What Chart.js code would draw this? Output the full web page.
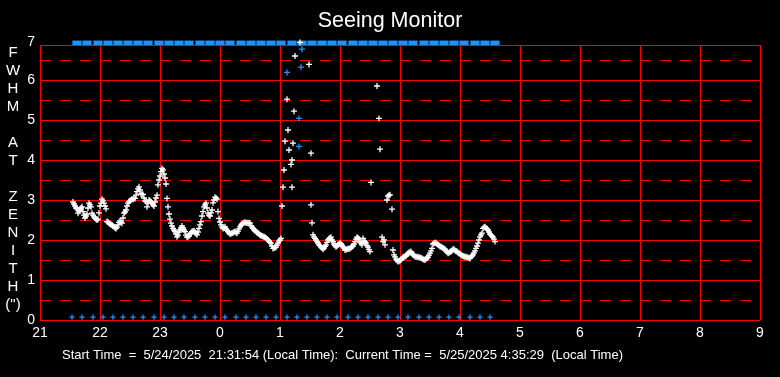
<!DOCTYPE html>
<html>
<head>
<meta charset="utf-8">
<title>Seeing Monitor</title>
<script src="https://cdn.jsdelivr.net/npm/chart.js@4.4.1/dist/chart.umd.min.js"></script>
<style>
  html, body { margin: 0; padding: 0; background: #000; }
  #seeing { display: block; }
</style>
</head>
<body>
<canvas id="seeing" width="780" height="377"></canvas>
<script>
// minutes after 21:00 local time, FWHM at zenith in arcsec
var seeing = [
  [33,2.95],[34,2.9],[35,2.85],[36,2.8],[37,2.78],[38,2.67],[39,2.72],[40,2.75],[41,2.8],[42,2.83],
  [43,2.71],[44,2.62],[45,2.55],[46,2.6],[47,2.65],[48,2.8],[49,2.92],[50,2.88],[51,2.83],[52,2.67],
  [53,2.62],[54,2.58],[55,2.55],[56,2.52],[57,2.5],[58,2.52],[59,2.68],[60,2.85],[61,2.92],[62,3.02],
  [63,2.98],[64,2.92],[65,2.85],[66,2.78],[67,2.46],[68,2.45],[69,2.42],[70,2.4],[71,2.38],[72,2.38],
  [73,2.35],[74,2.33],[75,2.3],[76,2.29],[77,2.32],[78,2.38],[79,2.44],[80,2.48],[81,2.45],[82,2.42],
  [83,2.55],[84,2.67],[85,2.7],[86,2.75],[87,2.85],[88,2.92],[89,2.96],[90,2.98],[91,3.0],[92,3.02],
  [93,3.02],[94,3.04],[95,3.04],[96,3.12],[97,3.21],[98,3.28],[99,3.33],[100,3.25],[101,3.15],[102,3.14],
  [103,3.14],[104,3.05],[105,2.98],[106,2.96],[107,2.83],[108,2.92],[109,3.0],[110,2.98],[111,2.95],[112,2.92],
  [113,2.88],[114,2.85],[115,2.95],[116,3.05],[117,3.12],[118,3.38],[119,3.5],[120,3.6],[121,3.71],[122,3.79],
  [123,3.75],[124,3.65],[125,3.55],[126,3.4],[127,3.04],[128,2.83],[129,2.65],[130,2.52],[131,2.42],[132,2.35],
  [133,2.29],[134,2.25],[135,2.21],[136,2.15],[137,2.08],[138,2.12],[139,2.2],[140,2.25],[141,2.3],[142,2.35],
  [143,2.3],[144,2.25],[145,2.21],[146,2.12],[147,2.07],[148,2.08],[149,2.1],[150,2.15],[151,2.18],[152,2.21],
  [153,2.22],[154,2.23],[155,2.2],[156,2.16],[157,2.13],[158,2.2],[159,2.29],[160,2.38],[161,2.46],[162,2.6],
  [163,2.71],[164,2.83],[165,2.88],[166,2.92],[167,2.8],[168,2.67],[169,2.62],[170,2.6],[171,2.68],[172,2.75],
  [173,2.93],[174,3.0],[175,3.07],[176,3.05],[177,3.02],[178,2.71],[179,2.54],[180,2.45],[181,2.38],[182,2.33],
  [183,2.29],[184,2.3],[185,2.33],[186,2.28],[187,2.24],[188,2.21],[189,2.18],[190,2.15],[191,2.16],[192,2.17],
  [193,2.18],[194,2.2],[195,2.21],[196,2.19],[197,2.17],[198,2.22],[199,2.28],[200,2.33],[201,2.37],[202,2.4],
  [203,2.42],[204,2.44],[205,2.44],[206,2.43],[207,2.43],[208,2.42],[209,2.43],[210,2.42],[211,2.36],[212,2.32],
  [213,2.29],[214,2.26],[215,2.23],[216,2.21],[217,2.19],[218,2.18],[219,2.15],[220,2.12],[221,2.11],[222,2.1],
  [223,2.09],[224,2.08],[225,2.07],[226,2.05],[227,2.02],[228,2.0],[229,1.97],[230,1.94],[231,1.92],[232,1.85],
  [233,1.79],[234,1.8],[235,1.81],[236,1.82],[237,1.87],[238,1.92],[239,1.97],[240,2.0],[241,2.04],
  [242,2.85],[243,3.32],[244,3.75],[245,4.47],[247,5.52],[248,4.75],[249,4.25],[251,3.89],[252,3.32],[252,4.0],
  [253,4.42],[254,5.22],[255,6.6],[260,6.94],[269,6.39],[271,4.17],[271,2.88],[272,2.43],
  [273,2.13],[274,2.08],[275,2.04],[276,2.0],[277,1.96],[278,1.92],[279,1.88],[280,1.86],[281,1.83],[282,1.8],
  [283,1.77],[284,1.8],[285,1.84],[286,1.88],[287,1.94],[288,2.0],[289,2.03],[290,2.05],[291,2.07],[292,2.0],
  [293,1.96],[294,1.9],[295,1.86],[296,1.83],[297,1.85],[298,1.88],[299,1.9],[300,1.93],[301,1.9],[302,1.87],
  [303,1.83],[304,1.8],[305,1.75],[306,1.76],[307,1.77],[308,1.78],[309,1.78],[310,1.79],[311,1.81],[312,1.83],
  [313,1.85],[314,1.9],[315,1.96],[316,2.02],[317,2.07],[318,2.05],[319,2.02],[320,1.95],[321,1.92],[322,1.88],
  [323,2.04],[324,1.98],[325,1.95],[326,1.92],[327,1.86],[328,1.82],[329,1.76],[330,1.71],
  [331,3.44],[337,5.85],[339,5.04],[340,4.27],[342,2.07],[343,1.96],[344,2.0],[345,1.88],
  [347,3.0],[348,3.1],[349,3.12],[350,3.13],[352,2.77],
  [353,1.75],[354,1.63],[355,1.58],[356,1.52],[357,1.49],[358,1.46],[359,1.47],[360,1.49],[361,1.5],[362,1.54],
  [363,1.57],[364,1.58],[365,1.59],[366,1.6],[367,1.63],[368,1.67],[369,1.69],[370,1.7],[371,1.71],[372,1.67],
  [373,1.63],[374,1.61],[375,1.59],[376,1.58],[377,1.58],[378,1.57],[379,1.57],[380,1.56],[381,1.55],[382,1.54],
  [383,1.52],[384,1.51],[385,1.5],[386,1.53],[387,1.55],[388,1.57],[389,1.62],[390,1.67],[391,1.73],[392,1.79],
  [393,1.9],[394,1.92],[395,1.93],[396,1.93],[397,1.9],[398,1.88],[399,1.86],[400,1.84],[401,1.83],[402,1.82],
  [403,1.8],[404,1.78],[405,1.77],[406,1.73],[407,1.7],[408,1.67],[409,1.68],[410,1.7],[411,1.71],[412,1.74],
  [413,1.77],[414,1.77],[415,1.74],[416,1.72],[417,1.71],[418,1.69],[419,1.67],[420,1.65],[421,1.63],[422,1.61],
  [423,1.6],[424,1.59],[425,1.58],[426,1.58],[427,1.57],[428,1.56],[429,1.55],[430,1.54],[431,1.58],[432,1.6],
  [433,1.63],[434,1.68],[435,1.73],[436,1.79],[437,1.85],[438,1.92],[439,2.0],[440,2.08],[441,2.13],[442,2.17],
  [443,2.29],[444,2.32],[445,2.33],[446,2.3],[447,2.28],[448,2.25],[449,2.2],[450,2.15],[451,2.12],[452,2.1],
  [453,2.07],[454,2.02],[455,1.96]
];

// blue crosses during the jump
var flagged = [[247,6.19],[259,5.04],[259,4.34],[261,6.32],[262,6.77]];

// blue markers along the bottom and the bar along the top
var bottomMarks = [32,42,53,63,73,83,93,103,114,124,134,144,155,165,175,185,196,206,216,226,
  236,247,257,267,277,287,297,308,318,328,338,348,358,368,379,389,399,409,419,430,440,450];
var topMarks = [37,47,58,68,78,88,98,108,119,129,139,149,160,170,180,190,201,211,221,231,
  241,252,262,272,282,292,302,313,323,333,343,353,363,373,384,394,404,414,424,435,445,455];
var bottomLevel = 0.07;
var topLevel = 6.93;

var hourLabels = ['21','22','23','0','1','2','3','4','5','6','7','8','9'];
var yGridValues = [0,1,2,3,4,5,6,6.875];
var halfSteps = [0.5,1.5,2.5,3.5,4.5,5.5,6.5];
var sideTitle = ['F','W','H','M','','A','T','','Z','E','N','I','T','H','(")'];
var footnote = 'Start Time  =  5/24/2025  21:31:54 (Local Time):  Current Time =  5/25/2025 4:35:29  (Local Time)';

var FONT = "'Liberation Sans', Arial, sans-serif";

function toPoints(list) {
    return list.map(function (p) { return { x: 21 + p[0] / 60, y: p[1] }; });
}

function levelPoints(list, level) {
    return list.map(function (t) { return { x: 21 + t / 60, y: level }; });
}

// dashed lines at the half steps
var halfLinePlugin = {
    id: 'halfLines',
    beforeDatasetsDraw: function (chart) {
        var ctx = chart.ctx, area = chart.chartArea, y = chart.scales.y;
        ctx.save();
        ctx.strokeStyle = '#ff0000';
        ctx.lineWidth = 1;
        ctx.setLineDash([11, 9]);
        halfSteps.forEach(function (v) {
            var py = Math.round(y.getPixelForValue(v)) + 0.5;
            ctx.beginPath();
            ctx.moveTo(area.left, py);
            ctx.lineTo(area.right, py);
            ctx.stroke();
        });
        ctx.restore();
    }
};

var textPlugin = {
    id: 'sideText',
    afterDraw: function (chart) {
        var ctx = chart.ctx;
        ctx.save();
        ctx.fillStyle = '#ffffff';
        ctx.textBaseline = 'middle';
        ctx.textAlign = 'center';
        ctx.font = '15px ' + FONT;
        sideTitle.forEach(function (ch, i) {
            ctx.fillText(ch, 13, 53 + i * 18);
        });
        ctx.textAlign = 'left';
        ctx.font = '13px ' + FONT;
        ctx.fillText(footnote, 62, 355);
        ctx.restore();
    }
};

function getConfig() {
    var blue = 'rgb(30,144,255)';
    return {
        type: 'scatter',
        data: {
            datasets: [{
                data: toPoints(seeing),
                pointStyle: 'cross',
                radius: 3,
                borderWidth: 1.3,
                borderColor: '#ffffff',
                clip: false
            }, {
                data: toPoints(flagged),
                pointStyle: 'cross',
                radius: 3,
                borderWidth: 1.3,
                borderColor: blue
            }, {
                data: levelPoints(topMarks, topLevel),
                pointStyle: 'line',
                radius: 4.6,
                borderWidth: 4.5,
                borderColor: blue,
                clip: false
            }, {
                data: levelPoints(bottomMarks, bottomLevel),
                pointStyle: 'cross',
                radius: 2.6,
                borderWidth: 1.3,
                borderColor: blue
            }]
        },
        options: {
            responsive: false,
            animation: false,
            layout: { padding: 0 },
            plugins: {
                legend: { display: false },
                tooltip: { enabled: false },
                title: {
                    display: true,
                    text: 'Seeing Monitor',
                    color: '#ffffff',
                    font: { family: FONT, size: 21.5, weight: 'normal', lineHeight: '24px' },
                    padding: { top: 9, bottom: 12 }
                }
            },
            scales: {
                x: {
                    type: 'linear',
                    min: 21,
                    max: 33,
                    afterFit: function (s) { s.height = 57; },
                    ticks: {
                        stepSize: 1,
                        autoSkip: false,
                        maxRotation: 0,
                        padding: 5,
                        color: '#ffffff',
                        font: { family: FONT, size: 14 },
                        callback: function (v) { return hourLabels[Math.round(v - 21)]; }
                    },
                    grid: { color: '#ff0000', lineWidth: 0.999, drawTicks: false },
                    border: { display: false }
                },
                y: {
                    min: 0,
                    max: 6.875,
                    afterFit: function (s) { s.width = 40; },
                    afterBuildTicks: function (s) {
                        s.ticks = yGridValues.map(function (v) { return { value: v }; });
                    },
                    ticks: {
                        autoSkip: false,
                        padding: 5,
                        color: '#ffffff',
                        font: { family: FONT, size: 14, lineHeight: '6px' },
                        callback: function (v) {
                            return v === 6.875 ? ['7', ''] : String(v);
                        }
                    },
                    grid: { color: '#ff0000', lineWidth: 0.999, drawTicks: false },
                    border: { display: false }
                },
                // empty strip on the right so the plot ends at 9 like the original
                right: {
                    position: 'right',
                    afterFit: function (s) { s.width = 20; },
                    grid: { display: false },
                    ticks: { display: false },
                    border: { display: false }
                }
            }
        },
        plugins: [halfLinePlugin, textPlugin]
    };
}

new Chart(document.getElementById('seeing').getContext('2d'), getConfig());
</script>
</body>
</html>
